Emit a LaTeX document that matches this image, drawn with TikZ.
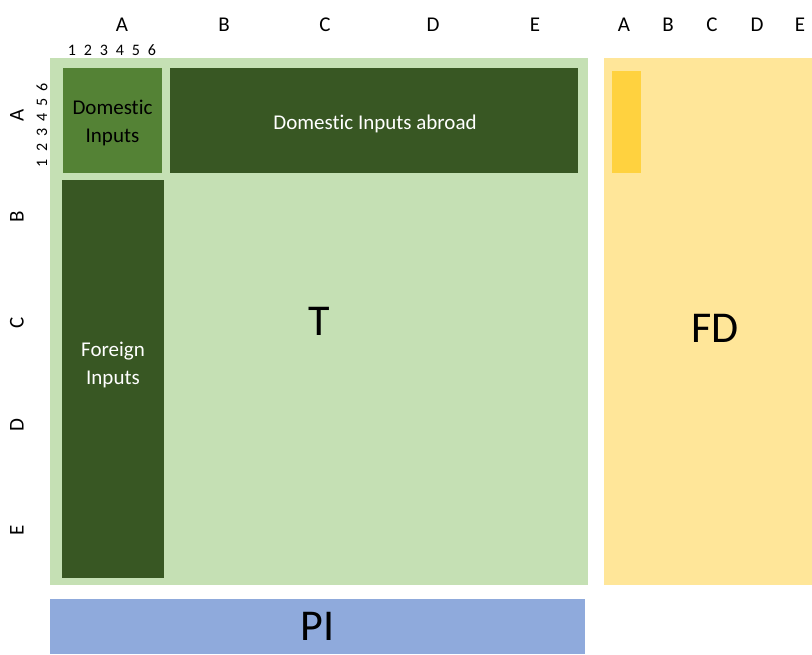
\documentclass[tikz,border=0pt]{standalone}
\usepackage{fontspec}
\setmainfont{Carlito}[Ligatures=NoCommon]
\usetikzlibrary{positioning}

\definecolor{tgreen}{HTML}{C5E0B4}
\definecolor{domgreen}{HTML}{548235}
\definecolor{darkgreen}{HTML}{385723}
\definecolor{fdyellow}{HTML}{FFE699}
\definecolor{fdgold}{HTML}{FFD23F}
\definecolor{piblue}{HTML}{8FAADC}

\tikzset{
  block/.style={fill=#1, draw=none, inner sep=0pt, outer sep=0pt},
  head/.style={font=\fontsize{21}{24}\selectfont},
  digit/.style={font=\fontsize{16}{18}\selectfont, inner sep=0pt},
  big/.style={font=\fontsize{44}{50}\selectfont}
}

\begin{document}
\begin{tikzpicture}[x=1pt, y=-1pt, font=\fontsize{21}{28}\selectfont]
\useasboundingbox (0,0) rectangle (812,654);

% transactions block
\node[block=tgreen, minimum width=538pt, minimum height=527pt, big] (T) at (319,321.5) {T};
\node[block=domgreen, minimum width=99pt, minimum height=105pt] (dom) at (112.5,120.5) {};
\node[align=center] (domtext) at (112.5,123) {Domestic\\Inputs};
\node[block=darkgreen, minimum width=408pt, minimum height=105pt] (abroad) at (374,120.5) {};
\node[text=white] (abroadtext) at (375,124) {Domestic Inputs abroad};
\node[block=darkgreen, minimum width=102pt, minimum height=398pt] (foreign) at (113,379) {};
\node[align=center, text=white] (foreigntext) at (113,365) {Foreign\\Inputs};

% final demand
\node[block=fdyellow, minimum width=208pt, minimum height=527pt] (FD) at (708,321.5) {};
\node[block=fdgold, minimum width=29pt, minimum height=102pt] (fdA) at (626.5,122) {};
\node[big] (fdtext) at (715,328) {FD};

% primary inputs
\node[block=piblue, minimum width=535pt, minimum height=55pt, big] (PI) at (317.5,626.5) {PI};

% column and row headers
\foreach \l/\x in {A/122,B/224,C/325,D/433,E/535}
  \node[head] (col\l) at (\x,25) {\l};
\foreach \l/\y in {A/115,B/217,C/323,D/425,E/530}
  \node[head, rotate=90] (row\l) at (17,\y) {\l};
\foreach \l/\x in {A/624,B/668,C/712,D/757,E/800}
  \node[head] (fd\l) at (\x,25) {\l};

% sectors of A
\foreach \i in {1,...,6}{
  \node[digit] (colA\i) at ({72+16*(\i-1)},50) {\i};
  \node[digit, rotate=90] (rowA\i) at (42,{163-15.2*(\i-1)}) {\i};
}

\end{tikzpicture}
\end{document}
